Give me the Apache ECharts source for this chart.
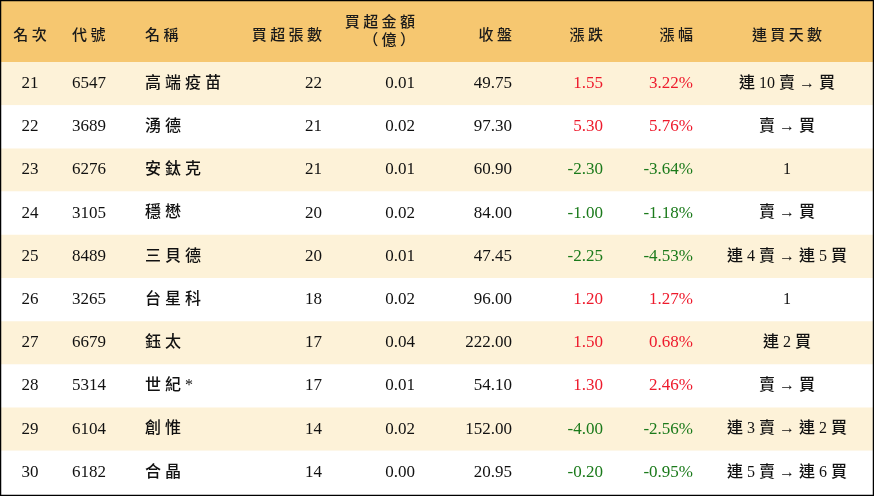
<!DOCTYPE html>
<html><head><meta charset="utf-8">
<script src="https://cdn.jsdelivr.net/npm/echarts@6/dist/echarts.min.js"></script>
<style>html,body{margin:0;padding:0;background:#fff}#c{width:874px;height:496px}</style>
</head><body><div id="c"></div>
<script>
const headers = ['名 次','代 號','名 稱','買 超 張 數','買 超 金 額\n（ 億 ）','收 盤','漲 跌','漲 幅','連 買 天 數'];
const ranks = [21,22,23,24,25,26,27,28,29,30];
const codes = ['6547','3689','6276','3105','8489','3265','6679','5314','6104','6182'];
const names = ['高端疫苗','湧德','安鈦克','穩懋','三貝德','台星科','鈺太','世紀*','創惟','合晶'];
const lots = [22,21,21,20,20,18,17,17,14,14];
const amounts = ['0.01','0.02','0.01','0.02','0.01','0.02','0.04','0.01','0.02','0.00'];
const closes = ['49.75','97.30','60.90','84.00','47.45','96.00','222.00','54.10','152.00','20.95'];
const changes = ['1.55','5.30','-2.30','-1.00','-2.25','1.20','1.50','1.30','-4.00','-0.20'];
const pcts = ['3.22%','5.76%','-3.64%','-1.18%','-4.53%','1.27%','0.68%','2.46%','-2.56%','-0.95%'];
const streaks = ['連 10 賣 → 買','賣 → 買','1','賣 → 買','連 4 賣 → 連 5 買','1','連 2 買','賣 → 買','連 3 賣 → 連 2 買','連 5 賣 → 連 6 買'];

const cols = [[30,'center'],[72,'left'],[145,'left'],[322,'right'],[415,'right'],[512,'right'],[603,'right'],[693,'right'],[787,'center']];
const RED='#ee1a2c', GREEN='#1b7a1b';
const serif = 'Liberation Serif, "Noto Sans CJK TC", serif';

const chart = echarts.init(document.getElementById('c'));
const rows = ranks.map((r,i)=>[i]);
chart.setOption({
  animation:false,
  grid:{left:1,right:1,top:62,bottom:2},
  xAxis:{type:'value',min:0,max:872,show:false},
  yAxis:{type:'category',data:ranks.map(String),inverse:true,show:false},
  graphic:[
    {type:'rect',shape:{x:0,y:0,width:874,height:62},style:{fill:'#f6c770'}},
    ...headers.map((h,j)=>({type:'text',x:cols[j][0],y:h.includes('\n')?30:34,
      style:{text:h,align:cols[j][1],verticalAlign:'middle',
      font:'500 15px "Noto Sans CJK TC"',fill:'#1a1a1a',lineHeight:18}})),
    {type:'rect',shape:{x:0.5,y:0.5,width:873,height:495},style:{fill:'none',stroke:'#000',lineWidth:1.5},z:100}
  ],
  series:[{
    type:'custom',
    data:rows,
    renderItem:function(params,api){
      const i=api.value(0);
      const c=api.coord([0,i]);
      const h=api.size([0,1])[1];
      const cs=params.coordSys;
      const y=c[1];
      const col=parseFloat(changes[i])>=0?RED:GREEN;
      const vals=[String(ranks[i]),codes[i],names[i],String(lots[i]),amounts[i],closes[i],changes[i],pcts[i],streaks[i]];
      const children=[{type:'rect',shape:{x:cs.x,y:y-h/2,width:cs.width,height:h},style:{fill:i%2===0?'#fdf2d8':'#fff'}}];
      vals.forEach((v,j)=>{
        let t=v;
        if(j===2) t=v.split('').join(' ');
        children.push({type:'text',x:cols[j][0],y:y,style:{text:t,align:cols[j][1],verticalAlign:'middle',
          font:(j===2||j===8?'500 16px ':'17px ')+serif,fill:(j===6||j===7)?col:'#111'}});
      });
      return {type:'group',children};
    }
  }]
});
</script></body></html>
